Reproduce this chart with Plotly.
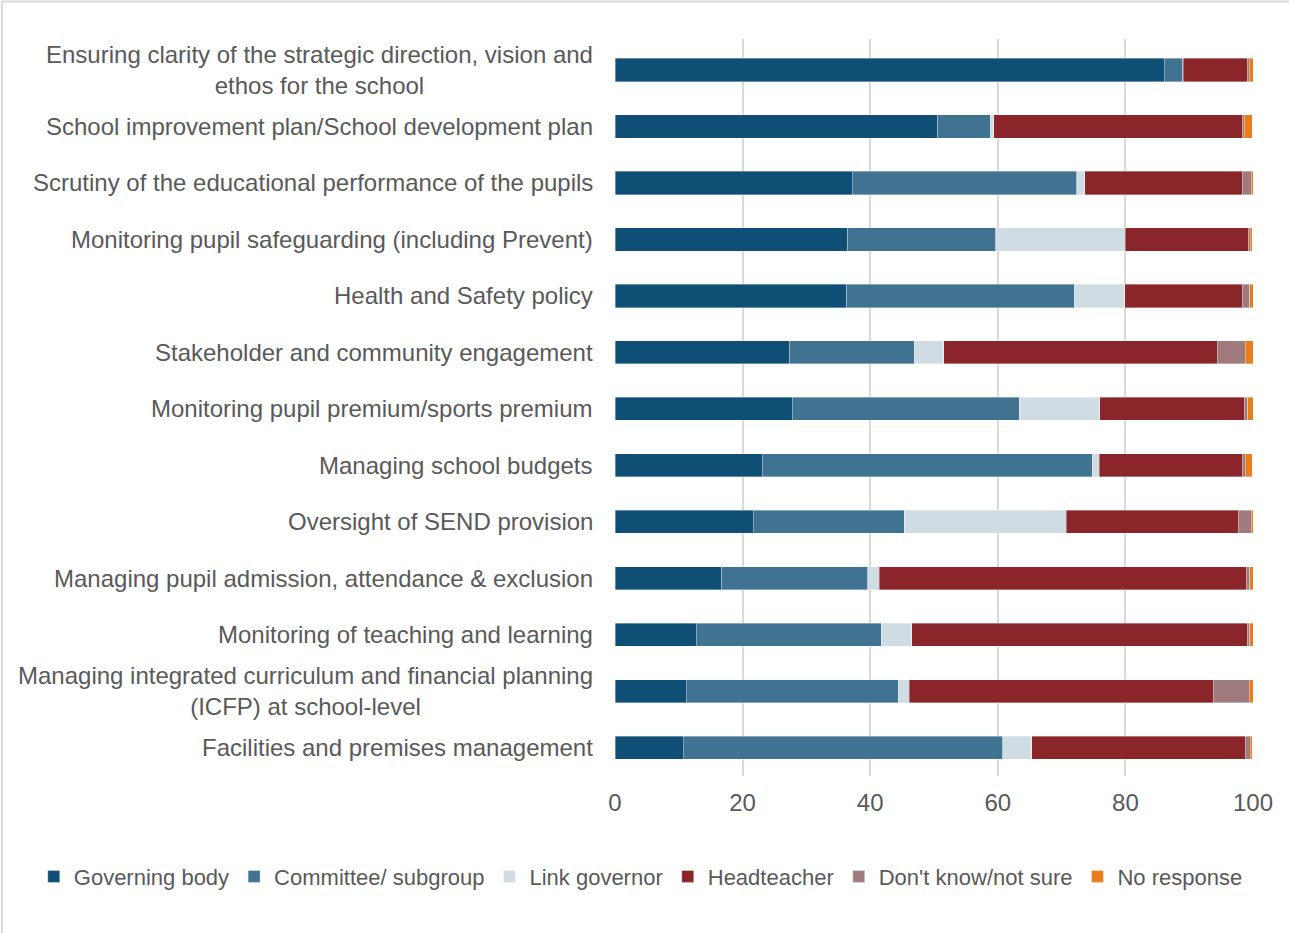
import plotly.graph_objects as go

categories = [
    "Ensuring clarity of the strategic direction, vision and<br>ethos for the school",
    "School improvement plan/School development plan",
    "Scrutiny of the educational performance of the pupils",
    "Monitoring pupil safeguarding (including Prevent)",
    "Health and Safety policy",
    "Stakeholder and community engagement",
    "Monitoring pupil premium/sports premium",
    "Managing school budgets",
    "Oversight of SEND provision",
    "Managing pupil admission, attendance & exclusion",
    "Monitoring of teaching and learning",
    "Managing integrated curriculum and financial planning<br>(ICFP) at school-level",
    "Facilities and premises management",
]

governing_body = [86.1, 50.6, 37.2, 36.5, 36.3, 27.4, 27.8, 23.1, 21.7, 16.7, 12.7, 11.2, 10.7]
committee = [2.9, 8.2, 35.2, 23.2, 35.7, 19.5, 35.6, 51.7, 23.6, 22.9, 29.0, 33.2, 50.1]
link_governor = [0.1, 0.6, 1.2, 20.3, 7.9, 4.6, 12.6, 1.1, 25.4, 1.8, 4.8, 1.7, 4.5]
headteacher = [10.0, 38.9, 24.7, 19.3, 18.4, 42.9, 22.6, 22.4, 27.0, 57.6, 52.7, 47.7, 33.5]
dont_know = [0.3, 0.3, 1.4, 0.3, 1.2, 4.4, 0.6, 0.5, 2.0, 0.5, 0.3, 5.6, 0.8]
no_response = [0.6, 1.3, 0.3, 0.3, 0.8, 1.2, 0.8, 1.1, 0.5, 0.5, 0.5, 0.7, 0.3]

series = [
    ("Governing body", governing_body, "#104f75"),
    ("Committee/ subgroup", committee, "#407392"),
    ("Link governor", link_governor, "#cfdce3"),
    ("Headteacher", headteacher, "#8a252a"),
    ("Don't know/not sure", dont_know, "#a07b7d"),
    ("No response", no_response, "#e87d1e"),
]

FONT = "Liberation Sans, Arial"
GREY = "#595959"

fig = go.Figure()
for name, vals, col in series:
    fig.add_trace(go.Bar(
        y=categories, x=vals, name=name, orientation="h",
        marker=dict(color=col, line=dict(color="rgba(255,255,255,0.6)", width=0.6)),
        width=0.41,
    ))

# category labels as annotations so wrapped lines are centred
for c in categories:
    fig.add_annotation(
        x=-0.031, xref="paper", y=c, yref="y", text=c, showarrow=False,
        xanchor="right", align="center",
        font=dict(family=FONT, size=24, color=GREY),
    )

# faint frame on top and left like the original export
fig.add_shape(type="line", xref="paper", yref="paper", x0=-0.961, x1=1.06, y0=1.051, y1=1.051,
              line=dict(color="#d9d9d9", width=2))
fig.add_shape(type="line", xref="paper", yref="paper", x0=-0.961, x1=-0.961, y0=1.051, y1=-0.22,
              line=dict(color="#d9d9d9", width=2))

fig.update_layout(
    barmode="stack",
    width=1289, height=933,
    margin=dict(l=615, r=36, t=39, b=157),
    plot_bgcolor="white", paper_bgcolor="white",
    font=dict(family=FONT, size=24, color=GREY),
    legend=dict(
        orientation="h", x=-0.911, xanchor="left", y=-0.108, yanchor="top",
        font=dict(family=FONT, size=22, color=GREY), traceorder="normal",
        itemwidth=30,
    ),
    showlegend=True,
)
fig.update_xaxes(
    range=[0, 100], dtick=20, showgrid=True, gridcolor="#d9d9d9", gridwidth=1.5,
    zeroline=False, ticks="", tickfont=dict(family=FONT, size=24, color=GREY),
    showline=False, ticklabelstandoff=10,
)
fig.update_yaxes(
    autorange="reversed", showticklabels=False, showgrid=False, ticks="",
    categoryorder="array", categoryarray=categories,
)

fig.write_html("out.html", config={"displayModeBar": False},
               post_script="document.body.style.margin='0';")
